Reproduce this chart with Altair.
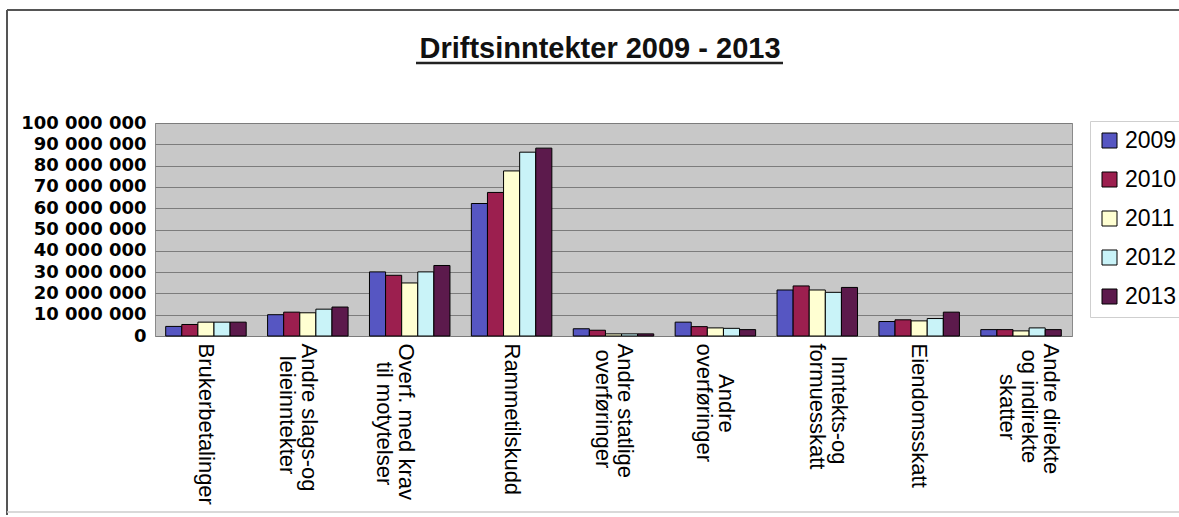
import altair as alt
import pandas as pd

# ---- data ----
Z = "\u200b"      # keeps the indent from being trimmed
S = "\u00a0"      # non-breaking space used to centre short label lines
categories = [
    "Brukerbetalinger",
    "Andre slags-og\n" + Z + S * 2 + "leieinntekter",
    "Overf. med krav\n" + Z + S * 3 + "til motytelser",
    "Rammetilskudd",
    "Andre statlige\n" + Z + S * 1 + "overføringer",
    Z + S * 5 + "Andre\noverføringer",
    Z + S * 2 + "Inntekts-og\nformuesskatt",
    "Eiendomsskatt",
    "Andre direkte\n" + Z + S * 1 + "og indirekte\n" + Z + S * 5 + "skatter",
]
years = ["2009", "2010", "2011", "2012", "2013"]
v2009 = [4500000, 10000000, 30100000, 62200000, 3400000, 6500000, 21600000, 6800000, 3000000]
v2010 = [5400000, 11200000, 28500000, 67400000, 2700000, 4400000, 23500000, 7600000, 3000000]
v2011 = [6500000, 10900000, 24900000, 77500000, 1000000, 3800000, 21600000, 7100000, 2400000]
v2012 = [6500000, 12600000, 30100000, 86300000, 1000000, 3600000, 20500000, 8200000, 3800000]
v2013 = [6500000, 13600000, 33100000, 88200000, 1000000, 3000000, 22800000, 11200000, 3000000]
y_ticks = [0, 10000000, 20000000, 30000000, 40000000, 50000000,
           60000000, 70000000, 80000000, 90000000, 100000000]
colors = ["#5656c2", "#9c1f4f", "#ffffd2", "#c9f3f8", "#5c1a4c"]
title_text = "Driftsinntekter 2009 - 2013"

series = [v2009, v2010, v2011, v2012, v2013]
rows = []
for yr, vals in zip(years, series):
    for cat, v in zip(categories, vals):
        rows.append({"kategori": cat, "year": yr, "value": v})
df = pd.DataFrame(rows)

FONT = "Liberation Sans"

label_shift = {
    "condition": [
        {"test": "indexof(datum.value, 'slags') >= 0", "value": 1},
        {"test": "indexof(datum.value, 'Overf') >= 0", "value": -4},
        {"test": "indexof(datum.value, 'statlige') >= 0", "value": 11},
        {"test": "indexof(datum.value, 'Andre\\n') >= 0", "value": 11},
        {"test": "indexof(datum.value, 'Inntekts') >= 0", "value": 22},
        {"test": "indexof(datum.value, 'direkte') >= 0", "value": 30},
    ],
    "value": 0,
}

bars = alt.Chart(df).mark_bar(stroke="black", strokeWidth=1).encode(
    x=alt.X(
        "kategori:N",
        sort=categories,
        scale=alt.Scale(paddingInner=0.21, paddingOuter=0.105),
        axis=alt.Axis(
            title=None,
            labelAngle=90,
            labelExpr="split(datum.label, '\\n')",
            labelFont=FONT,
            labelFontSize=22,
            labelColor="black",
            labelLineHeight=22,
            labelLimit=0,
            labelPadding=7,
            labelOffset=label_shift,
            ticks=False,
            domain=False,
        ),
    ),
    xOffset=alt.XOffset("year:N", sort=years, scale=alt.Scale(paddingInner=0, paddingOuter=0)),
    y=alt.Y(
        "value:Q",
        scale=alt.Scale(domain=[0, 100000000], nice=False),
        axis=alt.Axis(
            title=None,
            values=y_ticks,
            labelExpr="replace(replace(format(datum.value, ','), ',', ' '), ',', ' ')",
            labelFont="DejaVu Sans",
            labelFontSize=18,
            labelFontWeight="bold",
            labelColor="black",
            labelPadding=9,
            labelOverlap=False,
            ticks=False,
            domain=False,
            grid=True,
            gridColor="#7c7c7c",
            gridWidth=1,
        ),
    ),
    color=alt.Color(
        "year:N",
        sort=years,
        scale=alt.Scale(domain=years, range=colors),
        legend=alt.Legend(
            title=None,
            orient="none",
            legendX=935,
            legendY=-2,
            fillColor="white",
            strokeColor="#cfcfcf",
            padding=8,
            symbolType="square",
            symbolSize=225,
            symbolStrokeColor="black",
            symbolStrokeWidth=1,
            labelFont=FONT,
            labelFontSize=23,
            labelColor="black",
            labelOffset=4,
            rowPadding=15,
        ),
    ),
)

one = pd.DataFrame({"a": [0]})
title_mark = alt.Chart(one).mark_text(
    font=FONT, fontSize=29, fontWeight="bold", color="#111111",
    align="center", baseline="alphabetic",
).encode(x=alt.value(445), y=alt.value(-65), text=alt.value(title_text))
underline = alt.Chart(one).mark_rule(color="#222222", strokeWidth=2.5).encode(
    x=alt.value(261), x2=alt.value(628), y=alt.value(-60)
)
frame_left = alt.Chart(one).mark_rule(color="#555555", strokeWidth=2).encode(
    x=alt.value(-148), y=alt.value(-113), y2=alt.value(392)
)
frame_top = alt.Chart(one).mark_rule(color="#555555", strokeWidth=2).encode(
    x=alt.value(-148), x2=alt.value(1030), y=alt.value(-113)
)
frame_bottom = alt.Chart(one).mark_rule(color="#cccccc", strokeWidth=1.5).encode(
    x=alt.value(-148), x2=alt.value(1030), y=alt.value(389)
)

chart = alt.layer(bars, title_mark, underline, frame_left, frame_top, frame_bottom).properties(
    width=917,
    height=213,
    autosize=alt.AutoSizeParams(type="none"),
    padding={"left": 155, "top": 123, "right": 107, "bottom": 181},
    background="white",
).configure_view(fill="#c8c8c8", stroke="#8a8a8a", strokeWidth=1)

chart.save("out.html", embed_options={"renderer": "svg", "actions": False})
